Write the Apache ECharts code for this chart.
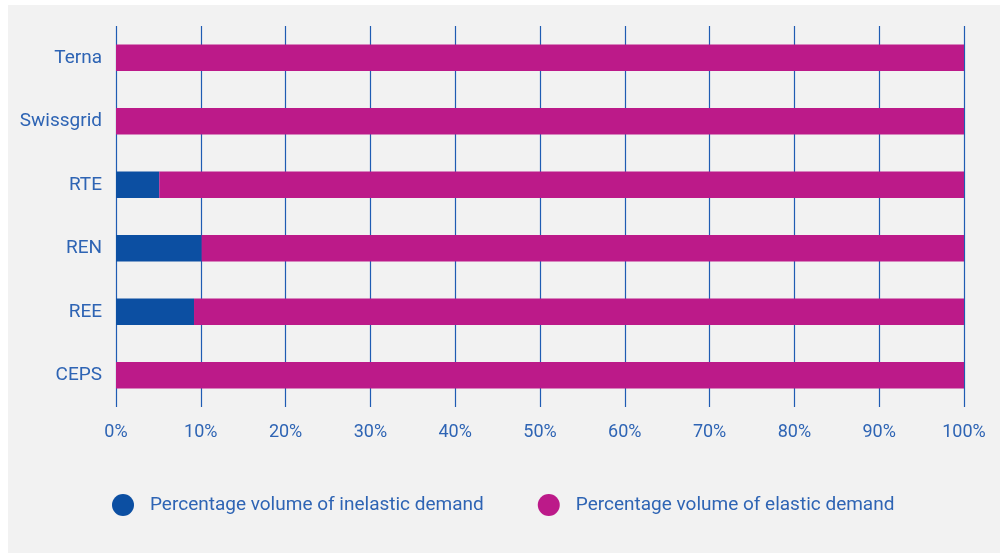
<!DOCTYPE html>
<html><head><meta charset="utf-8">
<script src="https://cdn.jsdelivr.net/npm/echarts@6/dist/echarts.min.js"></script>
<style>html,body{margin:0;padding:0;background:#fff}#bg{position:absolute;left:8px;top:5px;width:992px;height:548px;background:#f2f2f2}#c{position:absolute;left:0;top:0;width:1000px;height:554px}</style>
</head><body><div id="bg"></div><div id="c"></div>
<script>
const categories = ['CEPS','REE','REN','RTE','Swissgrid','Terna'];
const inelastic = [0, 9.2, 10.1, 5.1, 0, 0];
const elastic = [100, 90.8, 89.9, 94.9, 100, 100];
const seriesNames = ['Percentage volume of inelastic demand','Percentage volume of elastic demand'];
const font = 'Roboto';
const txt = '#2e64b4';
const chart = echarts.init(document.getElementById('c'), null, {renderer:'canvas'});
chart.setOption({
  backgroundColor: 'transparent',
  animation: false,
  textStyle: {fontFamily: font},
  grid: {left:116, right:36, top:26, bottom:147, containLabel:false},
  xAxis: {
    type:'value', min:0, max:100, interval:10,
    axisLabel:{formatter:'{value}%', color:txt, fontSize:18, fontFamily:font, margin:16},
    axisLine:{show:false}, axisTick:{show:false},
    splitLine:{show:true, lineStyle:{color:'#1f5cb3', width:1.2}}
  },
  yAxis: {
    type:'category', data:categories,
    axisLabel:{color:txt, fontSize:19, fontFamily:font, margin:14},
    axisLine:{show:false}, axisTick:{show:false}
  },
  legend: {
    left:107, top:489, icon:'circle', itemWidth:22, itemHeight:22, itemGap:54,
    textStyle:{color:txt, fontSize:19, fontFamily:font, padding:[0,0,0,11]},
    data: seriesNames
  },
  series: [
    {name:seriesNames[0], type:'bar', stack:'t', data:inelastic, barWidth:'42%', itemStyle:{color:'#0c4fa2'}},
    {name:seriesNames[1], type:'bar', stack:'t', data:elastic, barWidth:'42%', itemStyle:{color:'#bc1a89'}}
  ]
});
</script></body></html>
